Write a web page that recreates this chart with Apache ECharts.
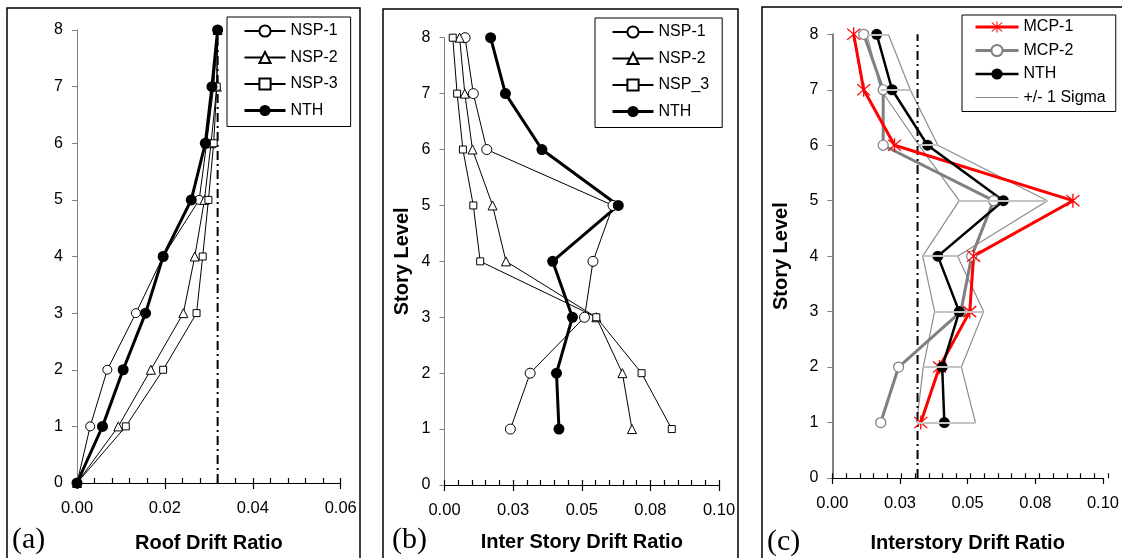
<!DOCTYPE html>
<html><head><meta charset="utf-8">
<script src="https://cdn.jsdelivr.net/npm/echarts@6/dist/echarts.min.js"></script>
<style>html,body{margin:0;padding:0;background:#fff}#c{width:1122px;height:558px}</style>
</head><body><div id="c"></div>
<script>
// ---------- data ----------
const levels = [0, 1, 2, 3, 4, 5, 6, 7, 8];
const storyLevels = [1, 2, 3, 4, 5, 6, 7, 8];
// (a) roof drift ratio at levels 0..8
const aNSP1 = [0, 0.0030, 0.0069, 0.0134, 0.0196, 0.0278, 0.0295, 0.0311, 0.0320];
const aNSP2 = [0, 0.0094, 0.0168, 0.0242, 0.0268, 0.0290, 0.0305, 0.0318, 0.0320];
const aNSP3 = [0, 0.0111, 0.0196, 0.0272, 0.0286, 0.0299, 0.0311, 0.0318, 0.0320];
const aNTH  = [0, 0.0058, 0.0105, 0.0156, 0.0196, 0.0260, 0.0292, 0.0307, 0.0320];
const aLimit = 0.032;
// (b) inter story drift ratio at levels 1..8
const bNSP1 = [0.0240, 0.0312, 0.0510, 0.0541, 0.0614, 0.0154, 0.0105, 0.0075];
const bNSP2 = [0.0683, 0.0648, 0.0553, 0.0224, 0.0175, 0.0102, 0.0074, 0.0055];
const bNSP3 = [0.0828, 0.0718, 0.0553, 0.0130, 0.0105, 0.0067, 0.0046, 0.0030];
const bNTH  = [0.0417, 0.0408, 0.0466, 0.0394, 0.0633, 0.0355, 0.0222, 0.0168];
// (c) interstory drift ratio at levels 1..8
const cMCP1 = [0.0327, 0.0396, 0.0508, 0.0522, 0.0889, 0.0230, 0.0116, 0.0079];
const cMCP2 = [0.0179, 0.0245, 0.0475, 0.0515, 0.0596, 0.0188, 0.0188, 0.0116];
const cNTH  = [0.0414, 0.0406, 0.0469, 0.0390, 0.0632, 0.0352, 0.0221, 0.0164];
const cSigmaLow  = [0.0312, 0.0336, 0.0378, 0.0334, 0.0469, 0.0320, 0.0179, 0.0128];
const cSigmaHigh = [0.0529, 0.0477, 0.0559, 0.0463, 0.0795, 0.0390, 0.0288, 0.0207];
const cLimit = 0.0315;
// tick labels
const yTickLabels = ['0', '1', '2', '3', '4', '5', '6', '7', '8'];
const aXTickLabels = ['0.00', '0.02', '0.04', '0.06'];
const bcXTickLabels = ['0.00', '0.03', '0.05', '0.08', '0.10'];

// ---------- helpers ----------
const FONT = '"Liberation Sans", Arial, sans-serif';
const pairs = (xs, ys) => xs.map((x, i) => [x, ys[i]]);
const asterisk = 'path://M9.2 0H10.8V20H9.2Z M1.4 2.6L2.6 1.4L18.6 17.4L17.4 18.6Z M17.4 1.4L18.6 2.6L2.6 18.6L1.4 17.4Z';

const rects = [
  {left: 77, top: 30, width: 263.7, height: 453},
  {left: 444.5, top: 37.7, width: 274.5, height: 447.3},
  {left: 832.3, top: 34.3, width: 276, height: 444}
];
const grid = rects.concat(rects);

function mainX(gi, max, interval, labels, name, gap) {
  return {
    type: 'value', gridIndex: gi, min: 0, max: max, interval: interval,
    axisLine: {show: true, lineStyle: {color: '#000', width: 1.2}},
    axisTick: {show: true, inside: false, length: 6, lineStyle: {color: '#000', width: 1.2}},
    axisLabel: {show: true, margin: 17, fontSize: 16.5, color: '#000', fontFamily: FONT,
      formatter: v => labels[Math.round(v / interval)]},
    splitLine: {show: false},
    name: name, nameLocation: 'middle', nameGap: gap,
    nameTextStyle: {fontSize: 20, fontWeight: 'bold', color: '#000', fontFamily: FONT}
  };
}
function minorX(gi, max, interval) {
  return {
    type: 'value', gridIndex: gi, min: 0, max: max, interval: interval,
    axisLine: {show: false}, axisLabel: {show: false}, splitLine: {show: false},
    axisTick: {show: true, inside: true, length: 5, lineStyle: {color: '#000', width: 1.2}}
  };
}
function mainY(gi, lineW, name, gap) {
  return {
    type: 'value', gridIndex: gi, min: 0, max: 8, interval: 1,
    axisLine: {show: true, lineStyle: {color: '#808080', width: lineW}},
    axisTick: {show: true, length: 5, lineStyle: {color: '#808080', width: 1}},
    axisLabel: {show: true, margin: 14, fontSize: 16, color: '#000', fontFamily: FONT,
      formatter: v => yTickLabels[Math.round(v)]},
    splitLine: {show: false},
    name: name, nameLocation: 'middle', nameGap: gap,
    nameTextStyle: {fontSize: 20, fontWeight: 'bold', color: '#000', fontFamily: FONT}
  };
}
function hiddenY(gi) {
  return {type: 'value', gridIndex: gi, min: 0, max: 8, show: false};
}

function nsp(name, xi, data, symbol, size) {
  return {
    type: 'line', name: name, xAxisIndex: xi, yAxisIndex: xi, data: data,
    symbol: symbol, symbolSize: size, showSymbol: true,
    lineStyle: {color: '#000', width: 1},
    itemStyle: {color: '#fff', borderColor: '#000', borderWidth: 1}
  };
}
function nth(xi, data, width) {
  return {
    type: 'line', name: 'NTH', xAxisIndex: xi, yAxisIndex: xi, data: data,
    symbol: 'circle', symbolSize: 11,
    lineStyle: {color: '#000', width: width},
    itemStyle: {color: '#000', borderColor: '#000', borderWidth: 0}
  };
}
function limitLine(xi, x) {
  return {
    type: 'line', name: 'limit', xAxisIndex: xi, yAxisIndex: xi, silent: true,
    data: [[x, 0], [x, 8]], symbol: 'none',
    lineStyle: {color: '#000', width: 2, type: [9, 4, 2, 4]}
  };
}

const aLevelsData = k => pairs(k, levels);
const sLevelsData = k => pairs(k, storyLevels);

const series = [
  limitLine(0, aLimit),
  nsp('NSP-1', 0, aLevelsData(aNSP1), 'circle', 9),
  nsp('NSP-2', 0, aLevelsData(aNSP2), 'triangle', 9),
  nsp('NSP-3', 0, aLevelsData(aNSP3), 'rect', 7),
  nth(0, aLevelsData(aNTH), 3),

  nsp('NSP-1', 1, sLevelsData(bNSP1), 'circle', 10),
  nsp('NSP-2', 1, sLevelsData(bNSP2), 'triangle', 9),
  nsp('NSP_3', 1, sLevelsData(bNSP3), 'rect', 7),
  nth(1, sLevelsData(bNTH), 3),

  {
    type: 'line', name: '+/- 1 Sigma', xAxisIndex: 2, yAxisIndex: 2, data: sLevelsData(cSigmaLow),
    symbol: 'none', lineStyle: {color: '#8c8c8c', width: 1.2}, itemStyle: {color: '#8c8c8c'},
    markLine: {
      silent: true, symbol: 'none', label: {show: false},
      lineStyle: {color: '#c4c4c4', width: 2, type: 'solid'},
      data: storyLevels.map((l, i) => [{coord: [cSigmaLow[i], l]}, {coord: [cSigmaHigh[i], l]}])
    }
  },
  {
    type: 'line', name: '+/- 1 Sigma', xAxisIndex: 2, yAxisIndex: 2, data: sLevelsData(cSigmaHigh),
    symbol: 'none', lineStyle: {color: '#8c8c8c', width: 1.2}, itemStyle: {color: '#8c8c8c'}
  },
  limitLine(2, cLimit),
  {
    type: 'line', name: 'MCP-2', xAxisIndex: 2, yAxisIndex: 2, data: sLevelsData(cMCP2),
    symbol: 'circle', symbolSize: 10,
    lineStyle: {color: '#808080', width: 3},
    itemStyle: {color: '#fff', borderColor: '#808080', borderWidth: 1.2}
  },
  {
    type: 'line', name: 'MCP-1', xAxisIndex: 2, yAxisIndex: 2, data: sLevelsData(cMCP1),
    symbol: asterisk, symbolSize: 14,
    lineStyle: {color: '#ff0000', width: 3},
    itemStyle: {color: '#ff0000', borderWidth: 0}
  },
  nth(2, sLevelsData(cNTH), 2.5)
];

const legendBase = {
  orient: 'vertical', itemWidth: 41, itemHeight: 14, itemGap: 10.5,
  borderColor: '#000', borderWidth: 1, borderRadius: 0, backgroundColor: '#fff',
  selectedMode: false,
  textStyle: {fontSize: 16, color: '#000', lineHeight: 16, fontFamily: FONT}
};

const option = {
  animation: false,
  backgroundColor: '#fff',
  grid: grid,
  xAxis: [
    mainX(0, 0.06, 0.02, aXTickLabels, 'Roof Drift Ratio', 50),
    mainX(1, 0.1, 0.025, bcXTickLabels, 'Inter Story Drift Ratio', 47),
    mainX(2, 0.1, 0.025, bcXTickLabels, 'Interstory Drift Ratio', 55),
    minorX(3, 0.06, 0.004),
    minorX(4, 0.1, 0.005),
    minorX(5, 0.1, 0.005)
  ],
  yAxis: [
    mainY(0, 1, '', 0),
    mainY(1, 1, 'Story Level', 32),
    mainY(2, 2, 'Story Level', 41),
    hiddenY(3), hiddenY(4), hiddenY(5)
  ],
  legend: [
    Object.assign({}, legendBase, {
      data: ['NSP-1', 'NSP-2', 'NSP-3', {name: 'NTH', lineStyle: {width: 3}}],
      left: 227, top: 17, padding: [6, 13, 8, 16]}),
    Object.assign({}, legendBase, {
      data: ['NSP-1', 'NSP-2', 'NSP_3', {name: 'NTH', lineStyle: {width: 3}}],
      left: 595, top: 18, padding: [6, 13, 8, 16]}),
    Object.assign({}, legendBase, {
      data: [
        {name: 'MCP-1', lineStyle: {width: 3}},
        {name: 'MCP-2', lineStyle: {width: 3}},
        {name: 'NTH', lineStyle: {width: 2.5}},
        {name: '+/- 1 Sigma', itemStyle: {opacity: 0}, lineStyle: {width: 1.2, color: '#8c8c8c'}}
      ],
      left: 962, top: 15, itemWidth: 43, itemGap: 7.5, padding: [4, 10, 6, 12]})
  ],
  graphic: [
    {type: 'rect', silent: true, shape: {x: 7, y: 8, width: 353, height: 600}, style: {fill: 'none', stroke: '#000', lineWidth: 1.5}},
    {type: 'rect', silent: true, shape: {x: 383, y: 9, width: 355, height: 600}, style: {fill: 'none', stroke: '#000', lineWidth: 1.5}},
    {type: 'rect', silent: true, shape: {x: 762, y: 7, width: 420, height: 600}, style: {fill: 'none', stroke: '#000', lineWidth: 1.5}},
    {type: 'text', silent: true, x: 12, y: 540, style: {text: '(a)', font: '30px "Liberation Serif", serif', fill: '#000', verticalAlign: 'middle'}},
    {type: 'text', silent: true, x: 392, y: 540, style: {text: '(b)', font: '30px "Liberation Serif", serif', fill: '#000', verticalAlign: 'middle'}},
    {type: 'text', silent: true, x: 767, y: 542, style: {text: '(c)', font: '30px "Liberation Serif", serif', fill: '#000', verticalAlign: 'middle'}}
  ],
  series: series
};

const chart = echarts.init(document.getElementById('c'), null, {renderer: 'canvas'});
chart.setOption(option);
</script>
</body></html>
